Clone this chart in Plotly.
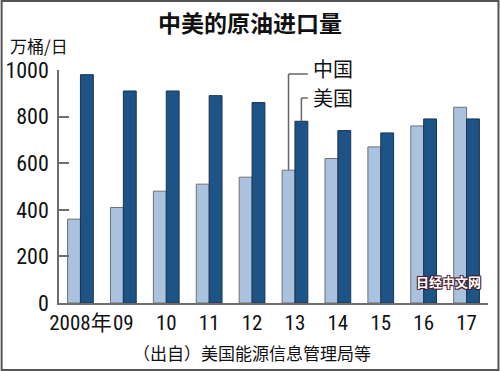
import plotly.graph_objects as go

years = ["2008年", "09", "10", "11", "12", "13", "14", "15", "16", "17"]
china = [360, 410, 480, 510, 540, 570, 620, 670, 760, 840]
usa = [980, 910, 910, 890, 860, 780, 740, 730, 790, 790]
y_ticks = [0, 200, 400, 600, 800, 1000]
y_max = 1000

W, H = 500, 371
ML, MR, MT, MB = 58.5, 11.5, 70, 68
PW, PH = W - ML - MR, H - MT - MB

num_font = "Roboto Condensed, Liberation Sans Narrow, Arial Narrow, DejaVu Sans Condensed, Liberation Sans, Noto Sans CJK SC"
cjk_font = "Noto Sans CJK SC, Noto Sans CJK JP, sans-serif"

fig = go.Figure()
fig.add_trace(go.Bar(x=list(range(len(years))), y=china, name="中国",
                     marker=dict(color="#aac2de", line=dict(color="#6e7174", width=1))))
fig.add_trace(go.Bar(x=list(range(len(years))), y=usa, name="美国",
                     marker=dict(color="#1d5385", line=dict(color="#183552", width=1))))

fig.update_layout(
    width=W, height=H,
    margin=dict(l=ML, r=MR, t=MT, b=MB, pad=0, autoexpand=False),
    paper_bgcolor="white", plot_bgcolor="white",
    barmode="group", bargap=0.4, bargroupgap=0,
    showlegend=False, hovermode=False,
    font=dict(family=num_font, color="#111"),
)
fig.update_xaxes(
    tickmode="array", tickvals=list(range(len(years))), ticktext=years,
    range=[-0.5, len(years) - 0.5], tickangle=0, automargin=False,
    showline=True, linecolor="#6e6e6e", linewidth=1.5,
    ticks="", showgrid=False, zeroline=False,
    tickfont=dict(size=21, family=num_font, color="#111"),
)
fig.update_yaxes(
    range=[0, y_max], tickvals=y_ticks, automargin=False,
    showline=True, linecolor="#6e6e6e", linewidth=1.5,
    ticks="inside", ticklen=10, tickcolor="#6e6e6e", tickwidth=1.5,
    showgrid=False, zeroline=False,
    tickfont=dict(size=22, family=num_font, color="#111"),
    ticklabelstandoff=4,
)

def paper_y(pix):
    return (MT + PH - pix) / PH

def paper_x(pix):
    return (pix - ML) / PW

# Title, unit, source
fig.add_annotation(text="<b>中美的原油进口量</b>", xref="paper", yref="paper",
                   x=paper_x(250), y=paper_y(22), xanchor="center", yanchor="middle",
                   showarrow=False, font=dict(size=23, family=cjk_font, color="#111"))
fig.add_annotation(text="万桶/日", xref="paper", yref="paper",
                   x=paper_x(7), y=paper_y(46), xanchor="left", yanchor="middle",
                   showarrow=False, font=dict(size=17, family=cjk_font, color="#111"))
fig.add_annotation(text="（出自）美国能源信息管理局等", xref="paper", yref="paper",
                   x=paper_x(252), y=paper_y(352), xanchor="center", yanchor="middle",
                   showarrow=False, font=dict(size=17, family=cjk_font, color="#111"))

# Leader-line legend at category "13"
i13 = years.index("13")
off = 0.15
label_x = i13 + 0.3
lc = dict(color="#666", width=1.5)
fig.add_shape(type="line", xref="x", yref="paper", x0=i13 - off, x1=i13 - off,
              y0=china[i13] / y_max, y1=paper_y(74), line=lc)
fig.add_shape(type="line", xref="x", yref="paper", x0=i13 - off, x1=label_x,
              y0=paper_y(74), y1=paper_y(74), line=lc)
fig.add_shape(type="line", xref="x", yref="paper", x0=i13 + off, x1=i13 + off,
              y0=usa[i13] / y_max, y1=paper_y(98), line=lc)
fig.add_shape(type="line", xref="x", yref="paper", x0=i13 + off, x1=label_x,
              y0=paper_y(98), y1=paper_y(98), line=lc)
fig.add_annotation(text="中国", xref="x", yref="paper", x=label_x, y=paper_y(68),
                   xanchor="left", yanchor="middle", showarrow=False, xshift=3,
                   font=dict(size=20, family=cjk_font, color="#111"))
fig.add_annotation(text="美国", xref="x", yref="paper", x=label_x, y=paper_y(97),
                   xanchor="left", yanchor="middle", showarrow=False, xshift=3,
                   font=dict(size=20, family=cjk_font, color="#111"))

# Watermark
fig.add_annotation(text="<b>日经中文网</b>", xref="paper", yref="paper",
                   x=paper_x(449), y=paper_y(281), xanchor="center", yanchor="middle",
                   showarrow=False,
                   font=dict(size=13, family=cjk_font, color="white",
                             shadow="1px 1px 0 #4a1a2c, -1px -1px 0 #4a1a2c, 1px -1px 0 #4a1a2c, -1px 1px 0 #4a1a2c"))

# Outer frame
fig.add_shape(type="rect", xref="paper", yref="paper",
              x0=paper_x(1), x1=paper_x(W - 1),
              y0=paper_y(H - 1), y1=paper_y(1),
              line=dict(color="#555", width=2), fillcolor="rgba(0,0,0,0)", layer="below")

fig.write_html("out.html", config={"displayModeBar": False},
               post_script="document.body.style.margin='0';document.body.style.overflow='hidden';")
